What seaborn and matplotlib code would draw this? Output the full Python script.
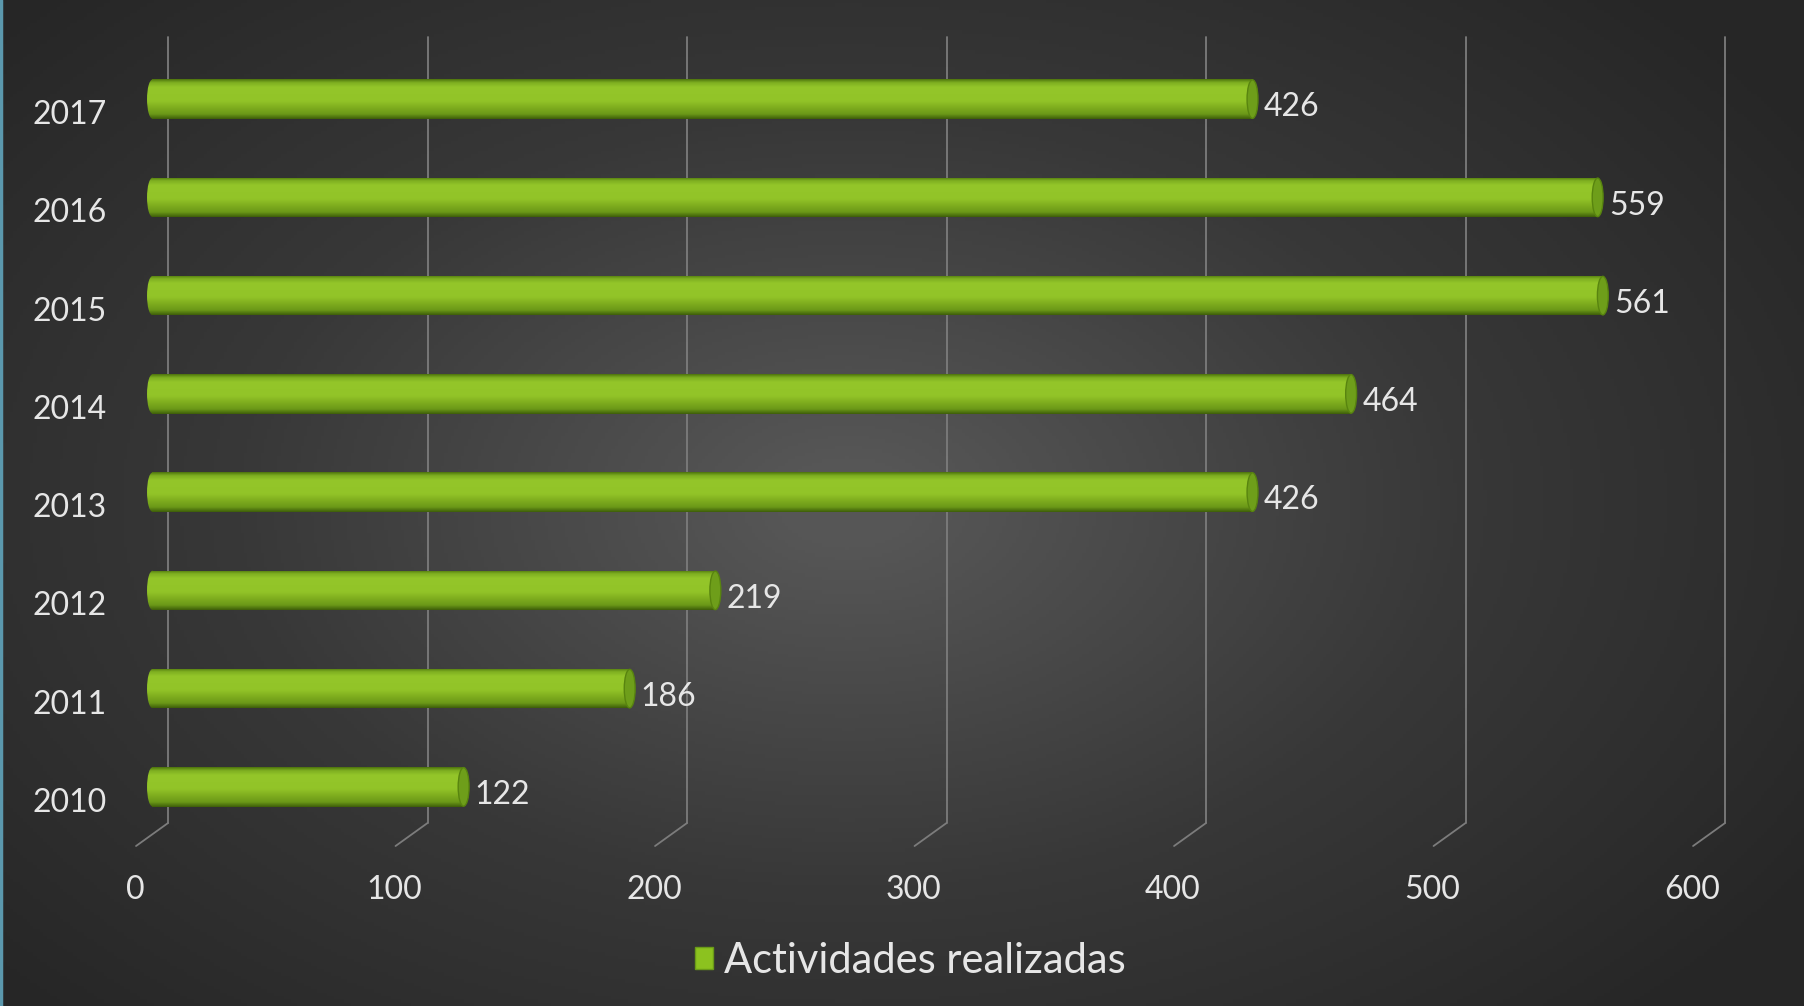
import numpy as np
import pandas as pd
import seaborn as sns
import matplotlib.pyplot as plt
from matplotlib.colors import LinearSegmentedColormap
from matplotlib.patches import Ellipse, Patch
from matplotlib.transforms import ScaledTranslation
from matplotlib.lines import Line2D

years = ["2010", "2011", "2012", "2013", "2014", "2015", "2016", "2017"]
activities = [122, 186, 219, 426, 464, 561, 559, 426]
x_ticks = [0, 100, 200, 300, 400, 500, 600]
series_name = "Actividades realizadas"

df = pd.DataFrame({"year": years, "n": activities})
order = years[::-1]

sns.set_theme(style="white")
plt.rcParams["font.family"] = ["Lato", "DejaVu Sans"]

dpi = 100
fig = plt.figure(figsize=(18.04, 10.06), dpi=dpi)

# background radial gradient
bg = fig.add_axes([0, 0, 1, 1], zorder=-10)
yy, xx = np.mgrid[0:1:300j, 0:1:540j]
r = np.sqrt(((xx - 0.47) / 0.75) ** 2 + ((yy - 0.5) / 0.85) ** 2)
shade = np.clip(1 - r, 0, 1)
grey = LinearSegmentedColormap.from_list("bg", ["#262626", "#383838", "#565656"])
bg.imshow(shade, cmap=grey, aspect="auto", extent=[0, 1, 0, 1], vmin=0.15, vmax=0.95)
bg.set_axis_off()
fig.add_artist(Line2D([0.0008, 0.0008], [0, 1], color="#5b98ad", lw=2.5))

ax = fig.add_axes([0.0815, 0.169, 0.8631, 0.7813])
ax.patch.set_alpha(0)
bar_c = "#8cc21f"
sns.barplot(data=df, x="n", y="year", order=order, orient="h", color=bar_c,
            width=0.4, saturation=1, ax=ax, label=series_name, zorder=3,
            linewidth=0)
if ax.get_legend() is not None:
    ax.get_legend().remove()
ax.set_xlim(0, 600)
ax.set_ylim(7.5, -0.5)
for s in ax.spines.values():
    s.set_visible(False)
ax.set_xlabel("")
ax.set_ylabel("")
ax.set_xticks([])

# back-plane gridlines with little diagonal feet
px = lambda dx, dy=0: ScaledTranslation(dx / dpi, dy / dpi, fig.dpi_scale_trans)
back = ax.get_xaxis_transform() + px(21)
for t in x_ticks:
    ax.plot([t, t], [0.0165, 1.0165], transform=back, color="#7c7c7c", lw=1.3,
            zorder=1, clip_on=False)
    ax.annotate("", xy=(t, 0.0165), xycoords=back,
                xytext=(t, 0.0165), textcoords=ax.get_xaxis_transform() + px(-11, -23),
                arrowprops=dict(arrowstyle="-", color="#7c7c7c", lw=1.3,
                                shrinkA=0, shrinkB=0), zorder=1)
    ax.text(t, -0.0636, str(t), transform=ax.get_xaxis_transform() + px(-12, -4),
            ha="center", va="center", fontsize=23, color="#e6e6e6")

# cylinder shading on each bar, rounded left end, darker cap on the right
cyl = LinearSegmentedColormap.from_list(
    "cyl", [(0, "#4f760e"), (0.08, "#7dae20"), (0.2, "#94c62a"), (0.55, "#92c428"),
            (0.7, "#80af1f"), (0.88, "#6c9918"), (1, "#3f600a")])
grad = np.linspace(0, 1, 64)[:, None]
ew = 4.2
for patch in list(ax.patches):
    x0, y0 = patch.get_x(), patch.get_y()
    w, h = patch.get_width(), patch.get_height()
    patch.set_x(x0 + ew / 2)
    patch.set_width(w - ew / 2)
    im = ax.imshow(grad, cmap=cyl, aspect="auto", extent=[x0, x0 + w, y0 + h, y0],
                   origin="upper", zorder=4, interpolation="bilinear")
    im.set_clip_path(patch)
    left = Ellipse((x0 + ew / 2, y0 + h / 2), ew, h, facecolor="none",
                   edgecolor="none", zorder=4)
    ax.add_patch(left)
    im2 = ax.imshow(grad, cmap=cyl, aspect="auto",
                    extent=[x0, x0 + ew, y0 + h, y0],
                    origin="upper", zorder=4, interpolation="bilinear")
    im2.set_clip_path(left)
    ax.add_patch(Ellipse((x0 + w, y0 + h / 2), ew, h * 0.98, facecolor="#6e9e1a",
                         edgecolor="#58840f", lw=1, zorder=5))
ax.set_xlim(0, 600)
ax.set_ylim(7.5, -0.5)

# value labels
labels = ax.bar_label(ax.containers[0], labels=[str(v) for v in
                      df.set_index("year").loc[order, "n"]], padding=5,
                      fontsize=23, color="#e6e6e6", zorder=6)
for lab in labels:
    lab.xyann = (8, -6)

# year labels
ax.tick_params(axis="y", length=0, pad=29, labelsize=23, labelcolor="#e6e6e6")
for lab in ax.get_yticklabels():
    lab.set_transform(lab.get_transform() + px(0, -13))

handle = Patch(facecolor=bar_c, edgecolor="#6a9a18", lw=1)
fig.legend(handles=[handle], labels=[series_name], loc="center",
           bbox_to_anchor=(0.5045, 0.045), frameon=False, fontsize=30,
           labelcolor="#e6e6e6", handlelength=0.45, handleheight=0.45,
           handletextpad=0.25)

fig.savefig("out.png", dpi=dpi)
